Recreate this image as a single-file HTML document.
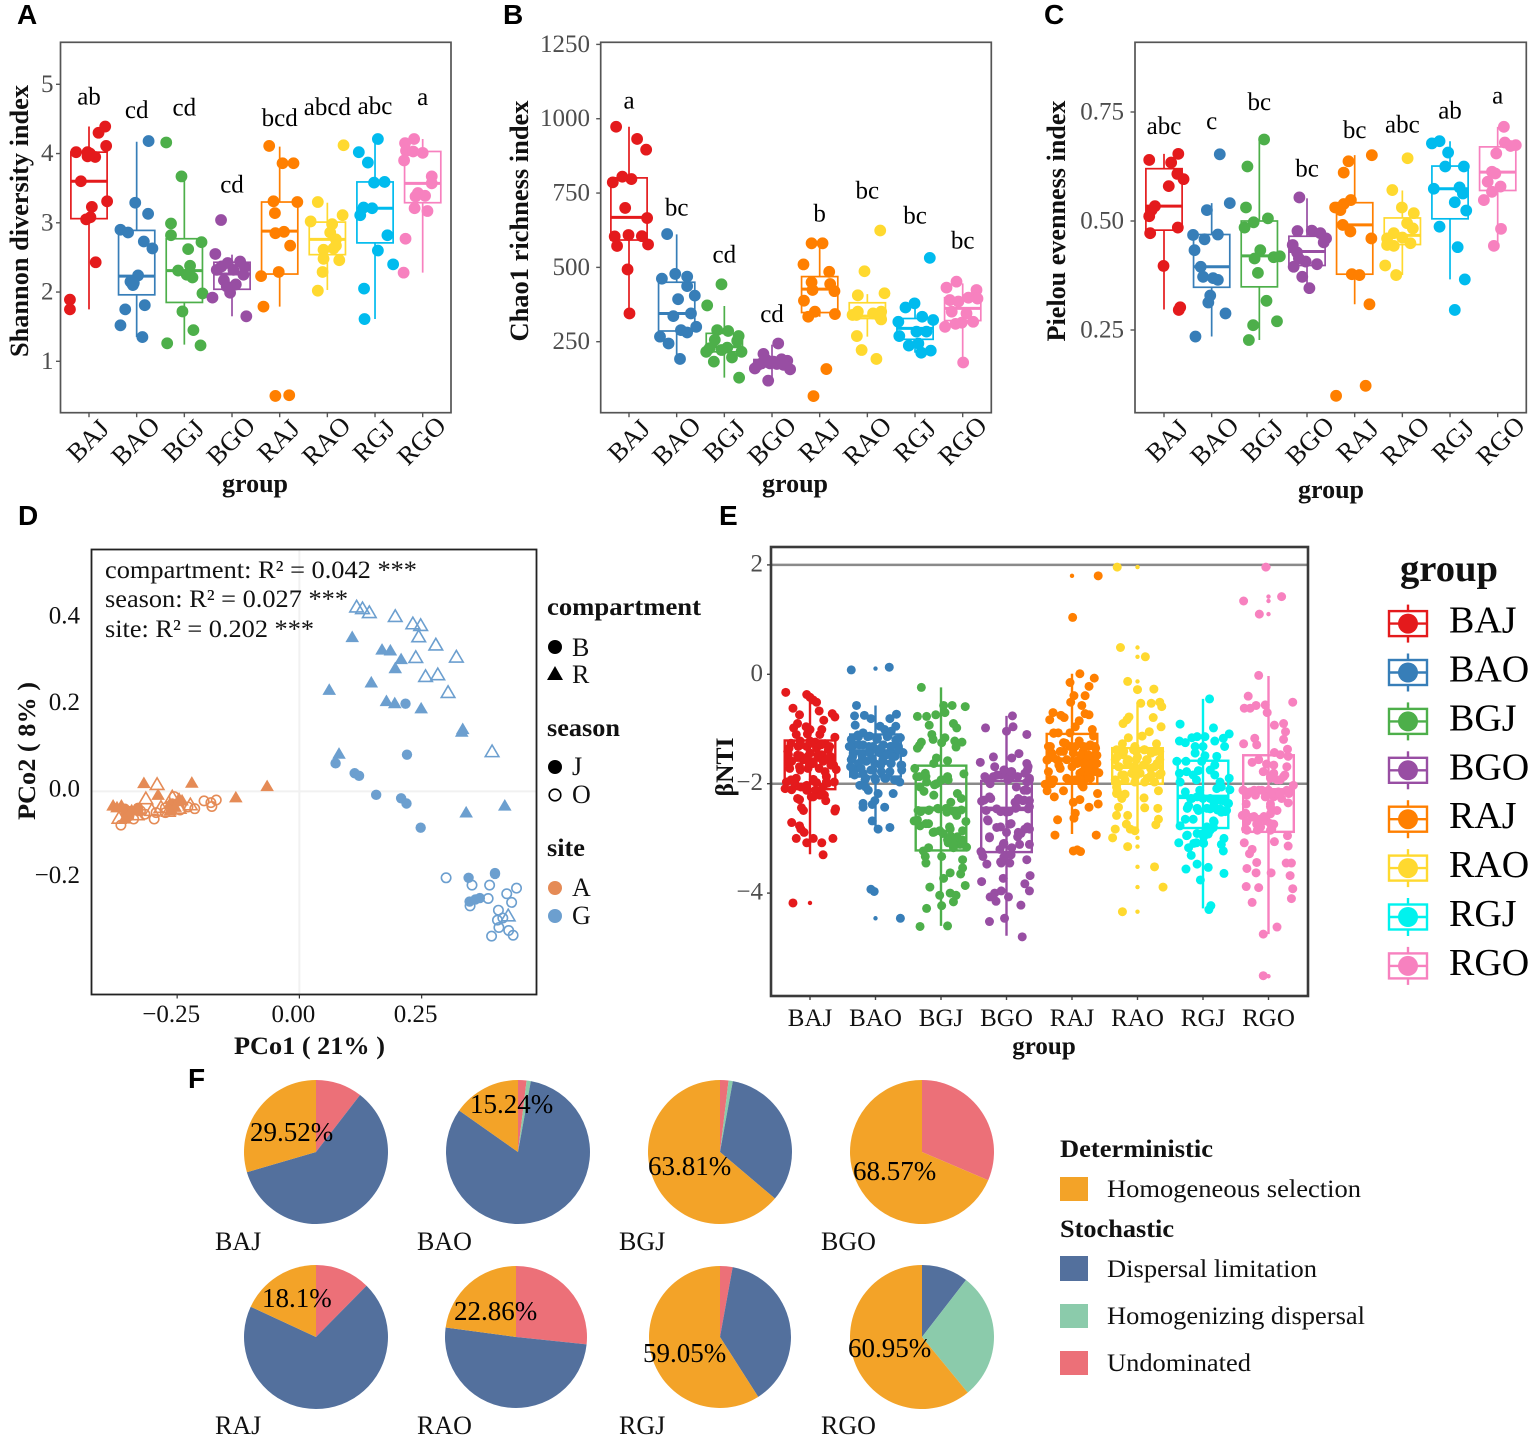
<!DOCTYPE html>
<html lang="en">
<head>
<meta charset="utf-8">
<title>Microbial diversity figure</title>
<style>
html,body{margin:0;padding:0;background:#fff;}
svg{display:block;}
text{font-family:"Liberation Serif","DejaVu Serif",serif;fill:#111;}
.panel-letter{font-family:"Liberation Sans",Arial,sans-serif;font-weight:700;font-size:28px;fill:#000;}
.b{font-weight:700;}
</style>
</head>
<body>
<svg id="fig" xmlns="http://www.w3.org/2000/svg" width="1535" height="1446" viewBox="0 0 1535 1446">
<rect x="0" y="0" width="1535" height="1446" fill="#fff"/>

<text class="panel-letter" x="17" y="24">A</text>
<text class="panel-letter" x="503" y="24">B</text>
<text class="panel-letter" x="1044" y="24">C</text>
<text class="panel-letter" x="18" y="525">D</text>
<text class="panel-letter" x="719" y="525">E</text>
<text class="panel-letter" x="188" y="1088">F</text>

<g id="panelA"></g>
<g id="panelB"></g>
<g id="panelC"></g>

<text class="b" font-size="26" text-anchor="middle" transform="translate(28,221) rotate(-90)" textLength="272" lengthAdjust="spacingAndGlyphs">Shannon diversity index</text>
<text class="b" font-size="26" text-anchor="middle" transform="translate(528,221) rotate(-90)" textLength="241" lengthAdjust="spacingAndGlyphs">Chao1 richness index</text>
<text class="b" font-size="26" text-anchor="middle" transform="translate(1065,221) rotate(-90)" textLength="241" lengthAdjust="spacingAndGlyphs">Pielou evenness index</text>
<text class="b" font-size="26" text-anchor="middle" x="255" y="492">group</text>
<text class="b" font-size="26" text-anchor="middle" x="795" y="492">group</text>
<text class="b" font-size="26" text-anchor="middle" x="1331" y="498">group</text>

<g id="panelD"></g>
<text font-size="25" x="105" y="578" textLength="312" lengthAdjust="spacingAndGlyphs">compartment: R² = 0.042 ***</text>
<text font-size="25" x="105" y="607" textLength="243" lengthAdjust="spacingAndGlyphs">season: R² = 0.027 ***</text>
<text font-size="25" x="105" y="637" textLength="209" lengthAdjust="spacingAndGlyphs">site: R² = 0.202 ***</text>
<text class="b" font-size="25" x="234" y="1054" textLength="151" lengthAdjust="spacingAndGlyphs">PCo1 ( 21% )</text>
<text class="b" font-size="25" text-anchor="middle" transform="translate(35,751) rotate(-90)" textLength="138" lengthAdjust="spacingAndGlyphs">PCo2 ( 8% )</text>

<g>
  <text class="b" font-size="25" x="547" y="615" textLength="154" lengthAdjust="spacingAndGlyphs">compartment</text>
  <circle cx="555" cy="647" r="7" fill="#000"/>
  <text font-size="26" x="572" y="656">B</text>
  <path d="M555,666 L563,680 L547,680 Z" fill="#000"/>
  <text font-size="26" x="572" y="683">R</text>
  <text class="b" font-size="25" x="547" y="736" textLength="73" lengthAdjust="spacingAndGlyphs">season</text>
  <circle cx="555" cy="767" r="7" fill="#000"/>
  <text font-size="26" x="572" y="775">J</text>
  <circle cx="555" cy="795" r="5.8" fill="none" stroke="#000" stroke-width="1.6"/>
  <text font-size="26" x="572" y="803">O</text>
  <text class="b" font-size="25" x="547" y="856" textLength="38" lengthAdjust="spacingAndGlyphs">site</text>
  <circle cx="555" cy="888" r="7" fill="#E58B56"/>
  <text font-size="26" x="572" y="896">A</text>
  <circle cx="555" cy="916" r="7" fill="#6C9FCF"/>
  <text font-size="26" x="572" y="924">G</text>
</g>

<g id="panelE"></g>
<text class="b" font-size="25" text-anchor="middle" transform="translate(733,767) rotate(-90)" textLength="59" lengthAdjust="spacingAndGlyphs">βNTI</text>
<text class="b" font-size="25" text-anchor="middle" x="1044" y="1054">group</text>

<text class="b" font-size="38" x="1400" y="581" textLength="98" lengthAdjust="spacingAndGlyphs">group</text>
<g id="groupLegend"></g>

<g id="panelF"></g>

<g>
  <text class="b" font-size="25" x="1060" y="1157" textLength="153" lengthAdjust="spacingAndGlyphs">Deterministic</text>
  <rect x="1060" y="1177" width="28" height="24" fill="#F3A328"/>
  <text font-size="25" x="1107" y="1197" textLength="254" lengthAdjust="spacingAndGlyphs">Homogeneous selection</text>
  <text class="b" font-size="25" x="1060" y="1237" textLength="114" lengthAdjust="spacingAndGlyphs">Stochastic</text>
  <rect x="1060" y="1256" width="28" height="25" fill="#53709D"/>
  <text font-size="25" x="1107" y="1277" textLength="210" lengthAdjust="spacingAndGlyphs">Dispersal limitation</text>
  <rect x="1060" y="1304" width="28" height="24" fill="#8BCBAB"/>
  <text font-size="25" x="1107" y="1324" textLength="258" lengthAdjust="spacingAndGlyphs">Homogenizing dispersal</text>
  <rect x="1060" y="1351" width="28" height="24" fill="#EC7078"/>
  <text font-size="25" x="1107" y="1371" textLength="144" lengthAdjust="spacingAndGlyphs">Undominated</text>
</g>
</svg>

<script>
const groups = ['BAJ','BAO','BGJ','BGO','RAJ','RAO','RGJ','RGO'];
const groupColors = ['#E41A1C','#377EB8','#4DAF4A','#984EA3','#FF7F00','#FFD92F','#00BBEE','#F781BF'];
const bntiColors = ['#E41A1C','#377EB8','#4DAF4A','#984EA3','#FF7F00','#FFD92F','#00F2EE','#F781BF'];

/* Panel A: [value, jitter] */
const shannonTicks = [1,2,3,4,5];
const shannonLetters = ['ab','cd','cd','cd','bcd','abcd','abc','a'];
const shannonLetterValues = [4.71,4.51,4.55,3.44,4.40,4.56,4.57,4.70];
const shannonBoxes = [[1.75,3.06,3.60,4.02,4.39],[1.35,1.96,2.23,2.89,4.17],[1.24,1.85,2.31,2.77,3.67],[1.65,2.04,2.26,2.43,2.54],[1.79,2.26,2.88,3.30,4.10],[2.03,2.54,2.76,3.01,3.29],[1.61,2.71,3.21,3.59,4.21],[2.28,3.29,3.57,4.03,4.21]];
const shannonPoints = [
[[1.89,-.40],[1.75,-.40],[4.02,-.27],[4.02,-.03],[3.96,-.03],[3.95,.13],[3.60,-.17],[3.23,.06],[3.05,-.06],[3.08,.03],[3.31,.38],[2.43,.14],[4.11,.36],[4.30,.20],[4.39,.34],[4.00,.02]],
[[4.18,.25],[3.29,-.03],[3.13,.24],[2.90,-.34],[2.86,-.18],[2.73,.15],[2.63,.33],[2.24,.03],[2.15,-.13],[2.10,-.08],[2.13,-.06],[1.75,-.24],[1.81,.17],[1.52,-.34],[1.35,.12]],
[[4.16,-.38],[3.67,-.06],[2.99,-.28],[2.82,-.28],[2.72,.36],[2.62,.08],[2.38,.12],[2.31,-.13],[2.25,.05],[2.21,.17],[1.98,.38],[1.72,-.04],[1.45,.19],[1.26,-.36],[1.23,.34]],
[[3.04,-.23],[2.55,-.35],[2.42,-.09],[2.44,.17],[2.36,.27],[2.25,.24],[2.32,-.32],[2.17,-.17],[2.11,.08],[1.99,-.04],[1.92,-.41],[1.65,.30],[2.37,-.22],[2.32,.03],[2.08,-.11]],
[[4.11,-.22],[3.86,.06],[3.86,.29],[3.31,-.13],[3.30,.37],[3.14,-.10],[2.85,-.09],[2.87,.09],[2.67,.22],[2.23,-.39],[2.29,-.02],[1.79,-.34],[.50,-.09],[.51,.20]],
[[4.12,.34],[3.30,-.20],[3.02,-.35],[3.11,.32],[2.98,.10],[2.86,.06],[2.76,.18],[2.61,-.08],[2.67,.18],[2.63,.13],[2.48,-.08],[2.46,.25],[2.29,-.10],[2.02,-.20]],
[[4.21,.06],[4.02,-.34],[3.87,-.15],[3.58,-.02],[3.59,.20],[3.22,-.24],[3.21,-.06],[3.11,-.31],[2.82,.26],[2.60,.06],[2.40,.38],[2.05,-.23],[1.61,-.22]],
[[4.21,-.18],[4.15,-.37],[4.04,-.35],[4.03,-.20],[4.01,0],[3.90,-.39],[3.67,.19],[3.57,.19],[3.43,-.10],[3.38,-.15],[3.39,.05],[3.21,-.17],[3.17,.10],[2.77,-.36],[2.28,-.40]]
];

/* Panel B */
const chaoTicks = [250,500,750,1000,1250];
const chaoLetters = ['a','bc','cd','cd','b','bc','bc','bc'];
const chaoLetterValues = [1035,674,516,317,654,732,648,564];
const chaoBoxes = [[345,592,668,801,973],[192,286,345,450,611],[129,216,233,278,370],[125,170,180,190,240],[334,348,427,469,581],[267,328,336,381,410],[213,258,295,328,379],[180,321,362,398,446]];
const chaoPoints = [
[[973,-.27],[932,.17],[896,.36],[786,-.34],[805,-.14],[797,.05],[700,-.08],[666,.38],[604,-.30],[609,-.01],[605,.27],[572,-.25],[577,.40],[493,-.03],[345,.01]],
[[612,-.20],[462,-.31],[478,-.03],[469,.22],[437,.22],[405,.38],[393,.03],[345,.30],[336,-.07],[300,.41],[289,.09],[281,.22],[267,-.35],[244,-.17],[192,.07]],
[[443,-.06],[372,-.36],[289,-.15],[286,.08],[256,-.20],[269,.30],[253,.27],[216,-.38],[230,.06],[216,.36],[183,-.22],[197,.16],[129,.31],[228,-.31],[222,-.06]],
[[244,.13],[209,-.18],[160,-.36],[177,-.22],[177,-.04],[191,.20],[186,.32],[175,.10],[157,.38],[119,-.08],[172,-.29],[172,.24],[188,-.11],[183,.03]],
[[581,-.17],[581,.06],[510,-.34],[485,.20],[450,-.17],[444,.22],[424,-.15],[420,.31],[388,-.33],[351,-.10],[334,-.24],[343,.32],[158,.14],[67,-.13]],
[[624,.27],[487,-.06],[413,.36],[406,-.20],[351,-.20],[351,.29],[340,-.31],[345,.12],[340,-.23],[334,.26],[325,.29],[269,-.22],[222,-.12],[192,.19]],
[[532,.31],[379,-.01],[365,-.20],[334,.15],[323,.38],[317,-.35],[284,.03],[284,.24],[269,-.33],[244,.07],[237,-.13],[220,.33],[213,.13]],
[[452,-.13],[432,-.34],[424,.29],[390,-.27],[398,.12],[395,.31],[351,-.23],[300,-.37],[314,-.02],[317,.22],[345,.08],[180,.01],[385,-.09],[310,-.15]]
];

/* Panel C */
const pielouTicks = [0.25,0.50,0.75];
const pielouTickLabels = ['0.25','0.50','0.75'];
const pielouLetters = ['abc','c','bc','bc','bc','abc','ab','a'];
const pielouLetterValues = [.699,.711,.755,.602,.690,.703,.735,.769];
const pielouBoxes = [[.297,.479,.534,.620,.654],[.235,.348,.395,.469,.541],[.227,.349,.420,.500,.687],[.346,.398,.430,.465,.552],[.309,.378,.491,.542,.651],[.376,.446,.467,.507,.570],[.366,.505,.574,.626,.683],[.443,.570,.612,.670,.716]];
const pielouPoints = [
[[.640,-.31],[.654,.30],[.634,.15],[.608,.28],[.596,.41],[.580,.10],[.534,-.19],[.525,-.26],[.511,-.31],[.472,-.29],[.485,.29],[.397,-.01],[.302,.34],[.296,.31]],
[[.653,.17],[.541,.38],[.525,-.10],[.468,-.39],[.458,-.15],[.469,.13],[.433,-.36],[.395,-.23],[.372,-.18],[.369,.03],[.365,.13],[.329,-.03],[.313,-.07],[.288,.29],[.235,-.34]],
[[.687,.10],[.625,-.25],[.531,-.28],[.497,-.12],[.506,.18],[.485,-.31],[.433,.02],[.414,-.10],[.417,.30],[.419,.43],[.381,-.03],[.317,.15],[.261,-.13],[.270,.37],[.227,-.22]],
[[.554,-.16],[.477,-.20],[.478,.10],[.472,.28],[.460,.40],[.451,.35],[.445,-.30],[.428,-.21],[.407,-.03],[.395,-.28],[.401,.21],[.372,-.10],[.346,.05],[.414,-.17]],
[[.637,-.13],[.611,-.23],[.548,-.08],[.539,-.23],[.531,-.41],[.525,-.30],[.491,-.25],[.476,-.09],[.460,.35],[.378,-.06],[.376,.10],[.309,.31],[.122,.23],[.099,-.39],[.651,.36]],
[[.644,.11],[.571,-.21],[.531,-.01],[.518,.24],[.495,.10],[.483,.22],[.472,-.18],[.460,-.32],[.462,0],[.449,.17],[.443,-.18],[.445,-.32],[.398,-.36],[.376,-.13]],
[[.678,-.38],[.683,-.22],[.657,-.04],[.625,-.10],[.625,.29],[.574,-.34],[.577,.20],[.563,.27],[.543,.10],[.524,.34],[.487,-.22],[.440,.16],[.366,.31],[.296,.10]],
[[.716,.13],[.680,.15],[.674,.38],[.655,-.03],[.613,-.12],[.590,-.21],[.579,.06],[.567,-.12],[.548,-.29],[.482,.07],[.443,-.08],[.609,-.05],[.672,.27]]
];

/* Panel D: [PCo1, PCo2] */
const pcoaXTicks = [-0.25,0,0.25];
const pcoaXLabels = ['−0.25','0.00','0.25'];
const pcoaYTicks = [-0.2,0,0.2,0.4];
const pcoaYLabels = ['−0.2','0.0','0.2','0.4'];
const siteAFilledTriangles = [[-.318,.020],[-.220,.021],[-.066,.013],[-.130,-.013],[-.289,-.007],[-.381,-.032],[-.364,-.032],[-.246,-.016],[-.265,-.028],[-.353,-.053],[-.330,-.040],[-.373,-.036],[-.350,-.055],[-.343,-.043],[-.330,-.043],[-.357,-.062],[-.254,-.035],[-.264,-.043],[-.240,-.020]];
const siteAFilledCircles = [[-.357,-.040],[-.348,-.057],[-.330,-.038],[-.260,-.028],[-.355,-.049],[-.344,-.045]];
const siteAOpenTriangles = [[-.291,.017],[-.314,-.016],[-.260,-.012],[-.369,-.061],[-.332,-.053],[-.302,-.043],[-.268,-.045],[-.246,-.038],[-.223,-.030],[-.283,-.036]];
const siteAOpenCircles = [[-.365,-.078],[-.339,-.064],[-.297,-.064],[-.274,-.049],[-.325,-.045],[-.256,-.012],[-.214,-.040],[-.195,-.022],[-.181,-.026],[-.179,-.035],[-.170,-.020],[-.244,-.043],[-.228,-.036],[-.316,-.053],[-.293,-.049],[-.353,-.061],[-.274,-.038]];
const siteGFilledTriangles = [[.108,.358],[.169,.329],[.186,.327],[.208,.307],[.196,.286],[.147,.253],[.061,.236],[.178,.210],[.195,.205],[.249,.193],[.334,.145],[.332,.139],[.081,.088],[.420,-.032],[.341,-.048]];
const siteGOpenTriangles = [[.117,.428],[.129,.424],[.143,.415],[.196,.406],[.232,.389],[.248,.385],[.244,.359],[.279,.340],[.321,.312],[.238,.311],[.258,.267],[.283,.271],[.304,.230],[.394,.093],[.427,-.287]];
const siteGFilledCircles = [[.217,.203],[.220,.085],[.074,.065],[.113,.042],[.122,.036],[.157,-.008],[.208,-.016],[.219,-.028],[.248,-.084],[.346,-.200],[.400,-.189],[.400,-.191],[.348,-.255],[.360,-.250],[.369,-.247]];
const siteGOpenCircles = [[.300,-.200],[.353,-.217],[.389,-.217],[.444,-.224],[.424,-.237],[.386,-.248],[.434,-.257],[.349,-.265],[.407,-.275],[.405,-.298],[.416,-.293],[.408,-.315],[.428,-.322],[.393,-.335],[.437,-.333]];

/* Panel E: [value, jitter] */
const bntiTicks = [-4,-2,0,2];
const bntiTickLabels = ['−4','−2','0','2'];
const bntiReferenceLines = [2,-2];
const bntiBoxes = [[-3.29,-2.10,-1.56,-1.21,-.39],[-2.83,-1.87,-1.41,-1.10,-.57],[-4.60,-3.22,-2.46,-1.67,-.24],[-4.78,-3.25,-2.46,-1.95,-.76],[-2.92,-2.00,-1.56,-1.09,.01],[-2.86,-2.00,-1.69,-1.35,-.51],[-4.28,-2.81,-2.24,-1.58,-.45],[-4.75,-2.88,-2.12,-1.48,-.03]];
const bntiOutliers = [[-4.18],[.105,-4.46],[],[],[1.80],[1.96,.49,.32,-.13,-2.99,-3.15,-3.52,-3.89,-4.34],[],[1.96,1.42,1.34,1.10,-5.52]];
const bntiBAJ = [[-.33,-.37],[-.37,-.05],[-.42,0],[-.47,.05],[-.51,.10],[-.62,-.26],[-.67,.14],[-.74,-.16],[-.72,.34],[-.78,.38],[-.84,.21],[-.90,-.19],[-.98,-.25],[-.96,-.06],[-1.01,0],[-1.01,.18],[-1.10,-.21],[-1.09,-.04],[-1.10,.15],[-1.15,.38],[-1.22,-.15],[-1.22,0],[-1.24,.08],[-1.27,.23],[-1.35,-.32],[-1.32,-.18],[-1.32,-.05],[-1.35,.10],[-1.38,.28],[-1.47,-.33],[-1.49,-.15],[-1.44,0],[-1.47,.18],[-1.5,.31],[-1.59,-.28],[-1.56,-.10],[-1.63,.05],[-1.59,.2],[-1.66,.36],[-1.72,-.31],[-1.75,-.15],[-1.72,-.03],[-1.78,.23],[-1.74,.4],[-1.87,.25],[-1.9,-.21],[-1.92,.05],[-1.97,-.36],[-2.0,-.23],[-2.03,-.05],[-1.98,.1],[-1.97,.25],[-1.97,.37],[-2.09,-.38],[-2.11,-.28],[-2.12,-.05],[-2.12,.08],[-2.06,.2],[-2.21,.15],[-2.24,.05],[-2.29,-.16],[-2.31,.24],[-2.44,-.13],[-2.49,-.10],[-2.46,.39],[-2.5,.38],[-2.71,-.28],[-2.77,-.16],[-2.83,-.14],[-2.89,-.09],[-3.0,-.21],[-3.0,.05],[-3.0,.35],[-3.08,-.05],[-3.08,.18],[-3.3,.2],[-4.18,-.26],[-1.26,-.29],[-1.29,-.14],[-1.26,.02],[-1.29,.17],[-1.32,.3],[-1.41,-.34],[-1.48,-.19],[-1.51,-.04],[-1.48,.12],[-1.54,.27],[-1.63,-.32],[-1.69,-.16],[-1.66,-.01],[-1.72,.14],[-1.66,.32],[-1.93,-.29],[-2.06,-.14],[-1.96,.07],[-1.99,.27],[-2.12,.17],[-2.24,.02],[-2.21,.22],[-2.27,-.19]];
const bntiBAO = [[.08,-.37],[.13,.21],[-.57,-.29],[-.76,-.32],[-.75,-.17],[-.81,-.07],[-.73,.32],[-.81,.22],[-.93,-.31],[-.95,.07],[-1.01,.14],[-.95,.31],[-1.04,.24],[-1.07,-.19],[-1.13,-.09],[-1.19,-.37],[-1.14,-.26],[-1.19,.02],[-1.13,.19],[-1.16,.38],[-1.32,-.4],[-1.29,-.32],[-1.29,-.19],[-1.32,-.04],[-1.29,.12],[-1.32,.24],[-1.32,.35],[-1.43,.42],[-1.44,-.34],[-1.47,-.21],[-1.44,-.09],[-1.44,.07],[-1.47,.17],[-1.5,.3],[-1.56,-.37],[-1.63,-.26],[-1.59,-.14],[-1.63,-.01],[-1.59,.12],[-1.63,.24],[-1.66,.4],[-1.75,-.32],[-1.81,-.19],[-1.75,-.04],[-1.78,.09],[-1.78,.22],[-1.75,.4],[-1.84,-.32],[-1.93,-.16],[-1.9,-.01],[-1.9,.14],[-1.93,.29],[-1.97,.37],[-2.03,-.24],[-2.12,-.11],[-2.18,.04],[-2.18,.27],[-2.36,-.19],[-2.43,-.19],[-2.31,-.01],[-2.38,-.05],[-2.43,.14],[-2.68,-.05],[-2.83,.04],[-2.8,.22],[-3.93,-.07],[-3.97,-.02],[-4.46,.38],[-1.11,-.27],[-1.14,-.12],[-1.17,.03],[-1.14,.18],[-1.2,.31],[-1.32,-.38],[-1.29,-.25],[-1.32,-.1],[-1.35,.08],[-1.32,.23],[-1.38,.36],[-1.51,-.35],[-1.54,-.2],[-1.54,-.05],[-1.57,.11],[-1.51,.26],[-1.69,-.38],[-1.72,-.22],[-1.75,-.07],[-1.66,.08],[-1.63,.23],[-1.66,.39],[-1.9,-.15],[-1.93,0],[-1.9,.16],[-1.93,.31],[-2.06,-.15]];
const bntiBGJ = [[-.24,-.3],[-.57,.04],[-.57,.17],[-.59,.37],[-.7,.06],[-.77,-.36],[-.77,-.22],[-.74,-.08],[-.93,-.18],[-.9,.19],[-.98,.24],[-1.1,-.14],[-1.19,-.12],[-1.16,.06],[-1.24,-.3],[-1.35,-.36],[-1.3,-.33],[-1.22,.21],[-1.24,.32],[-1.33,.23],[-1.25,.01],[-1.53,-.07],[-1.58,.1],[-1.63,-.11],[-1.72,-.4],[-1.87,-.37],[-1.81,-.24],[-1.97,-.22],[-1.82,.35],[-1.93,.01],[-1.93,.11],[-2.0,-.07],[-2.06,-.32],[-2.14,-.26],[-2.21,-.11],[-2.18,.25],[-2.27,.31],[-2.34,.15],[-2.49,-.35],[-2.49,-.19],[-2.46,-.04],[-2.52,.09],[-2.58,.24],[-2.68,-.41],[-2.77,-.32],[-2.73,-.19],[-2.69,.38],[-2.83,.14],[-2.89,-.12],[-2.86,-.02],[-2.86,.33],[-2.96,.15],[-3.02,.26],[-3.08,.11],[-3.11,.29],[-3.16,.39],[-3.17,-.19],[-3.23,-.27],[-3.17,.19],[-3.33,.01],[-3.33,-.24],[-3.45,-.23],[-3.39,.33],[-3.54,.33],[-3.63,.14],[-3.65,.3],[-3.73,.04],[-3.86,.37],[-3.89,-.17],[-4.04,-.02],[-4.0,.14],[-4.04,.23],[-4.16,.19],[-4.23,.01],[-4.28,-.22],[-4.61,-.32],[-4.6,.1],[-2.51,-.31],[-2.48,-.18],[-2.45,-.05],[-2.45,.08],[-2.51,.2],[-2.48,.31],[-2.97,.25],[-3.09,.31],[-3.09,.18],[-3.03,.1],[-3.03,.33],[-2.88,-.1],[-2.91,.03],[-2.66,-.36],[-2.73,-.23],[-2.79,.13],[-1.93,0],[-2.02,-.1],[-1.87,.1],[-1.87,-.33],[-1.87,-.23]];
const bntiBGO = [[-.76,.09],[-.98,-.32],[-1.04,0],[-.96,.1],[-1.1,.31],[-1.51,-.2],[-1.45,.19],[-1.53,.08],[-1.61,-.4],[-1.69,-.18],[-1.63,.31],[-1.75,-.03],[-1.78,.08],[-1.87,-.33],[-1.87,-.2],[-1.84,-.08],[-1.81,.28],[-1.69,.33],[-2.0,-.25],[-1.9,.05],[-2.06,.15],[-1.97,.31],[-1.9,.35],[-2.12,.31],[-2.24,-.26],[-2.32,-.38],[-2.27,.18],[-2.34,.13],[-2.31,.25],[-2.31,.35],[-2.49,-.31],[-2.46,-.15],[-2.52,0],[-2.43,.15],[-2.46,.33],[-2.68,-.28],[-2.8,-.15],[-2.74,.05],[-2.83,.28],[-2.89,.18],[-2.83,.35],[-2.99,-.26],[-2.89,0],[-3.11,.2],[-3.11,-.05],[-3.2,-.1],[-3.17,.08],[-3.11,.35],[-3.26,-.38],[-3.33,-.36],[-3.39,-.03],[-3.39,.31],[-3.45,-.08],[-3.45,.05],[-3.47,-.3],[-3.73,-.05],[-3.68,.36],[-3.83,.28],[-3.96,.35],[-3.79,-.38],[-4.07,-.25],[-4.0,-.18],[-3.96,-.08],[-4.07,.03],[-4.15,-.16],[-4.22,.22],[-4.46,-.03],[-4.52,-.26],[-4.8,.24],[-1.75,-.04],[-1.78,.07],[-1.87,.17],[-1.84,-.14],[-1.93,-.29],[-1.93,.02],[-1.75,.32],[-1.93,.35],[-2.12,.27],[-2.3,-.34],[-2.27,-.24],[-2.3,.17],[-2.3,.27],[-2.42,.35],[-2.51,-.09],[-2.51,.04],[-2.45,.14],[-2.66,-.29],[-2.79,-.09],[-2.73,.07],[-2.91,.22],[-2.79,.32],[-2.97,-.26],[-3.09,-.04],[-2.97,.17],[-3.24,-.39],[-3.34,-.04],[-3.3,.07],[-3.43,-.09]];
const bntiRAJ = [[1.8,.40],[1.04,.01],[.01,.12],[-.07,.34],[-.15,-.03],[-.22,.26],[-.39,.03],[-.39,.2],[-.51,-.02],[-.57,.15],[-.7,-.29],[-.75,-.17],[-.72,.2],[-.74,.26],[-.83,-.34],[-.79,-.12],[-.85,.11],[-.96,.05],[-1.01,.31],[-1.07,-.28],[-1.07,-.21],[-1.07,-.03],[-1.13,.33],[-1.32,-.36],[-1.25,-.13],[-1.22,.11],[-1.32,-.03],[-1.32,.25],[-1.32,.35],[-1.44,-.31],[-1.41,-.13],[-1.44,.02],[-1.41,.17],[-1.47,.35],[-1.56,-.38],[-1.56,-.23],[-1.56,-.08],[-1.59,.07],[-1.56,.22],[-1.59,.35],[-1.72,-.18],[-1.69,0],[-1.72,.2],[-1.69,.3],[-1.78,-.36],[-1.81,.12],[-1.8,.41],[-1.9,-.08],[-1.9,.22],[-1.93,-.28],[-2.01,-.41],[-2.0,-.31],[-1.93,.05],[-2.03,.15],[-2.13,-.38],[-2.06,.17],[-2.13,-.13],[-2.18,.39],[-2.24,-.27],[-2.29,.12],[-2.34,.02],[-2.37,.4],[-2.43,.26],[-2.54,.05],[-2.63,.03],[-2.66,-.22],[-2.94,-.26],[-2.94,.37],[-3.23,.02],[-3.21,.08],[-3.24,.13],[-1.32,.18],[-1.29,.28],[-1.35,.36],[-1.48,.13],[-1.48,.26],[-1.48,.38],[-1.63,.08],[-1.63,.18],[-1.63,.28],[-1.63,.38],[-1.78,.16],[-1.78,.26],[-1.78,.36],[-1.08,-.28],[-1.32,-.33],[-1.48,-.3],[-1.57,-.38],[-1.41,-.18],[-1.26,-.1],[-1.66,-.2],[-1.93,-.33],[-1.93,-.05],[-1.32,.05],[-1.93,.13],[-1.9,.28]];
const bntiRAO = [[1.96,-.31],[.49,-.26],[.32,.12],[-.13,-.15],[-.28,0],[-.27,.25],[-.53,.05],[-.53,.21],[-.51,.34],[-.59,.37],[-.79,.24],[-.78,-.13],[-.83,-.16],[-.9,-.22],[-.96,.36],[-1.05,.18],[-1.13,.07],[-1.16,-.14],[-1.27,-.23],[-1.27,.29],[-1.32,-.04],[-1.38,.11],[-1.38,-.32],[-1.41,.34],[-1.41,-.02],[-1.44,.21],[-1.47,-.22],[-1.56,-.34],[-1.56,-.14],[-1.56,-.02],[-1.56,.14],[-1.56,.34],[-1.69,-.29],[-1.69,-.07],[-1.66,.09],[-1.69,.26],[-1.81,.36],[-1.84,-.24],[-1.81,-.09],[-1.81,.04],[-1.84,.21],[-1.93,-.34],[-1.93,-.19],[-1.97,-.04],[-1.97,.11],[-1.97,.26],[-2.06,-.32],[-2.18,-.32],[-2.19,-.19],[-2.13,.32],[-2.27,-.24],[-2.26,.1],[-2.43,-.29],[-2.44,.11],[-2.45,.31],[-2.58,-.32],[-2.58,-.15],[-2.65,.32],[-2.75,.28],[-2.74,-.17],[-2.83,-.34],[-2.83,-.11],[-2.86,-.04],[-2.99,-.38],[-3.15,-.15],[-3.52,.26],[-3.89,.39],[-4.34,-.23],[-1.51,-.31],[-1.41,-.21],[-1.38,-.06],[-1.38,.1],[-1.41,.27],[-1.69,-.28],[-1.6,-.16],[-1.51,0],[-1.57,.15],[-1.63,.3],[-1.84,-.21],[-1.87,-.03],[-1.9,.15],[-1.84,.33],[-1.99,-.31],[-2.12,-.31],[-2.21,-.26],[-1.72,-.03],[-1.72,.2]];
const bntiRGJ = [[-.45,.1],[-.91,-.35],[-.98,.16],[-1.09,.4],[-1.17,.31],[-1.22,.18],[-1.16,-.17],[-1.14,-.09],[-1.14,.03],[-1.22,-.36],[-1.25,-.27],[-1.32,-.12],[-1.32,0],[-1.32,.33],[-1.5,.21],[-1.44,-.12],[-1.49,.03],[-1.59,-.4],[-1.59,-.26],[-1.59,-.02],[-1.66,.18],[-1.78,-.25],[-1.76,-.07],[-1.75,.11],[-1.81,-.36],[-1.84,-.15],[-1.84,.18],[-1.9,.4],[-1.97,-.35],[-1.93,-.1],[-1.97,.26],[-2.06,.28],[-2.09,.21],[-2.11,.41],[-2.15,-.27],[-2.12,-.05],[-2.27,-.17],[-2.27,0],[-2.31,.16],[-2.31,.31],[-2.37,.38],[-2.4,-.22],[-2.49,-.07],[-2.46,.11],[-2.46,.26],[-2.49,.36],[-2.65,-.15],[-2.65,-.27],[-2.68,.16],[-2.52,.28],[-2.77,-.35],[-2.8,.06],[-2.8,.16],[-2.95,-.25],[-2.92,-.02],[-2.92,.08],[-3.0,.32],[-3.08,-.37],[-3.08,-.1],[-3.08,0],[-3.17,-.22],[-3.11,.28],[-3.23,.31],[-3.31,-.18],[-3.47,-.09],[-3.56,-.26],[-3.53,.08],[-3.64,.32],[-3.76,-.04],[-4.23,.12],[-4.3,.09],[-2.27,-.19],[-2.24,-.04],[-2.27,.11],[-2.3,.27],[-2.36,.39],[-2.45,-.24],[-2.45,-.09],[-2.45,.06],[-2.48,.22],[-2.51,.34],[-2.79,.06],[-2.7,.17],[-2.91,-.09],[-2.97,.01],[-2.85,.11],[-2.94,-.24],[-3.09,-.14],[-3.09,.01],[-2.24,-.09],[-2.36,.17]];
const bntiRGO = [[1.96,-.04],[1.34,-.38],[1.42,.2],[1.1,-.14],[-.02,-.15],[-.4,-.31],[-.51,.37],[-.62,-.37],[-.62,-.28],[-.57,-.19],[-.56,-.05],[-.7,-.02],[-.93,.09],[-.9,.23],[-1.05,.26],[-1.17,-.21],[-1.19,.23],[-1.27,-.38],[-1.29,-.18],[-1.37,.29],[-1.43,.09],[-1.47,.18],[-1.5,.3],[-1.56,-.15],[-1.61,-.25],[-1.64,-.03],[-1.69,.28],[-1.78,-.08],[-1.81,.08],[-1.84,.25],[-1.9,.03],[-1.93,.18],[-2.03,.38],[-2.12,-.39],[-2.15,-.28],[-2.12,-.15],[-2.12,0],[-2.15,.15],[-2.12,.28],[-2.21,-.33],[-2.21,-.2],[-2.24,-.05],[-2.24,.08],[-2.27,.2],[-2.35,.3],[-2.37,-.34],[-2.37,.03],[-2.49,.13],[-2.58,-.4],[-2.61,-.25],[-2.65,-.13],[-2.55,.03],[-2.69,-.33],[-2.74,-.18],[-2.68,-.03],[-2.74,.08],[-2.83,-.35],[-2.83,-.15],[-2.83,.05],[-2.95,.29],[-3.06,.09],[-3.08,-.37],[-3.14,.3],[-3.2,-.25],[-3.28,-.29],[-3.44,-.18],[-3.45,.27],[-3.45,.35],[-3.55,-.33],[-3.63,-.19],[-3.63,.04],[-3.68,.33],[-3.88,-.34],[-3.9,-.15],[-3.92,.37],[-4.1,.35],[-4.17,-.25],[-4.62,.13],[-4.75,-.08],[-5.51,-.08],[-2.12,-.38],[-2.12,-.22],[-2.12,-.1],[-2.18,.06],[-2.18,.18],[-2.18,.31],[-1.87,.03],[-1.93,.13],[-1.87,.23],[-2.42,.03],[-2.6,-.07],[-2.6,-.22],[-2.54,-.35],[-2.79,-.12],[-2.73,.03],[-2.85,-.33],[-2.85,-.17],[-2.85,.03],[-1.66,.08]];
const bntiPoints = [bntiBAJ,bntiBAO,bntiBGJ,bntiBGO,bntiRAJ,bntiRAO,bntiRGJ,bntiRGO];

/* Panel F: counts out of 105 pairwise comparisons */
const pieSelection = [31,16,67,72,19,24,62,64];
const pieDispersal = [63,86,35,0,73,53,40,11];
const pieHomogenizing = [0,1,1,0,0,0,0,30];
const pieUndominated = [11,2,2,33,13,28,3,0];
const pieLabels = ['29.52%','15.24%','63.81%','68.57%','18.1%','22.86%','59.05%','60.95%'];

const NS = 'http://www.w3.org/2000/svg';
function make(parent, tag, attrs, txt){
  const el = document.createElementNS(NS, tag);
  for (const k in attrs) el.setAttribute(k, attrs[k]);
  if (txt !== undefined) el.textContent = txt;
  parent.appendChild(el);
  return el;
}

function boxPanel(root, o){
  const xOf = i => o.x0 + o.step * i;
  const yOf = o.y;
  const frame = make(root,'rect',{x:o.left,y:o.top,width:o.right-o.left,height:o.bottom-o.top,fill:'#fff',stroke:'#555',"stroke-width":1.7});
  
  
  o.ticks.forEach((t,k)=>{
    const tick = make(root,'line',{x1:o.left-4.5,x2:o.left,y1:yOf(t),y2:yOf(t),stroke:'#555',"stroke-width":1.4});
    
    
    const lab = make(root,'text',{x:o.left-o.tickGap,y:yOf(t)+7.5,"text-anchor":'end',"font-size":25,style:'fill:#4d4d4d'},o.tickLabels[k]);
    
    
  });
  groups.forEach((g,i)=>{
    const cx = xOf(i), hw = o.step*0.38, col = groupColors[i];
    const [lo,q1,med,q3,hi] = o.boxes[i];
    const tick = make(root,'line',{x1:cx,x2:cx,y1:o.bottom,y2:o.bottom+4.5,stroke:'#555',"stroke-width":1.4});
    
    
    const lab = make(root,'text',{"text-anchor":'middle',"font-size":26.5,transform:`translate(${cx+o.labelDx},${o.labelY}) rotate(-45)`,y:8.5},g);
    
    
    const wh = make(root,'line',{x1:cx,x2:cx,y1:yOf(lo),y2:yOf(hi),stroke:col,"stroke-width":1.7});
    
    
    const box = make(root,'rect',{x:cx-hw,width:2*hw,y:yOf(q3),height:yOf(q1)-yOf(q3),fill:'#fff',stroke:col,"stroke-width":1.7});
    
    
    const m = make(root,'line',{x1:cx-hw,x2:cx+hw,y1:yOf(med),y2:yOf(med),stroke:col,"stroke-width":3});
    
    
    o.points[i].forEach(p=>{
      const c = make(root,'circle',{cx:cx+p[1]*o.step,cy:yOf(p[0]),r:5.9,fill:col});
      
      
    });
    const sig = make(root,'text',{x:cx,y:yOf(o.letterValues[i]),"text-anchor":'middle',"font-size":25,style:'fill:#000'},o.letters[i]);
    
    
  });
}

boxPanel(document.getElementById('panelA'),{left:60.5,right:451,top:42.3,bottom:412.7,x0:89,step:47.67,tickGap:7,labelY:441,labelDx:-1,
  y:v=>361.3-(v-1)*69.25,ticks:shannonTicks,tickLabels:shannonTicks.map(String),boxes:shannonBoxes,points:shannonPoints,letters:shannonLetters,letterValues:shannonLetterValues});
boxPanel(document.getElementById('panelB'),{left:600.7,right:991.3,top:42.3,bottom:412.7,x0:629,step:47.67,tickGap:10.7,labelY:441,labelDx:0,
  y:v=>341.7-(v-250)*0.2973,ticks:chaoTicks,tickLabels:chaoTicks.map(String),boxes:chaoBoxes,points:chaoPoints,letters:chaoLetters,letterValues:chaoLetterValues});
boxPanel(document.getElementById('panelC'),{left:1135,right:1526.3,top:42.3,bottom:412.7,x0:1164,step:47.67,tickGap:11,labelY:441,labelDx:3,
  y:v=>330-(v-0.25)*436,ticks:pielouTicks,tickLabels:pielouTickLabels,boxes:pielouBoxes,points:pielouPoints,letters:pielouLetters,letterValues:pielouLetterValues});

/* Panel D */
(function(){
  const root = document.getElementById('panelD');
  const xOf = v => 299.4 + 489*v;
  const yOf = v => 791.4 - 432*v;
  const L=91.5,R=536.5,T=549.5,B=994.5;
  const vz = make(root,'line',{x1:xOf(0),x2:xOf(0),y1:T,y2:B,stroke:'#f1f1f1',"stroke-width":2});
  
  
  const hz = make(root,'line',{x1:L,x2:R,y1:yOf(0),y2:yOf(0),stroke:'#f1f1f1',"stroke-width":2});
  
  
  const frame = make(root,'rect',{x:L,y:T,width:R-L,height:B-T,fill:'none',stroke:'#222',"stroke-width":1.8});
  
  
  pcoaXTicks.forEach((t,k)=>{
    const tk = make(root,'line',{x1:xOf(t),x2:xOf(t),y1:B,y2:B+4,stroke:'#333',"stroke-width":1.2});
    
    
    const lab = make(root,'text',{x:xOf(t)-6,y:1022,"text-anchor":'middle',"font-size":25},pcoaXLabels[k]);
    
    
  });
  pcoaYTicks.forEach((t,k)=>{
    const lab = make(root,'text',{x:80,y:yOf(t)+5,"text-anchor":'end',"font-size":25},pcoaYLabels[k]);
    
    
  });
  function circles(arr,color,filled){
    arr.forEach(p=>{
      const attrs = filled ? {r:5.2,fill:color} : {r:4.7,fill:'none',stroke:color,"stroke-width":1.6};
      attrs.cx = xOf(p[0]); attrs.cy = yOf(p[1]);
      const c = make(root,'circle',attrs);
      
      
    });
  }
  function triangles(arr,color,filled){
    arr.forEach(p=>{
      const x=xOf(p[0]), y=yOf(p[1]);
      const d=`M${x},${y-6.2} L${x+6.8},${y+5.4} L${x-6.8},${y+5.4} Z`;
      const attrs = filled ? {d,fill:color} : {d,fill:'none',stroke:color,"stroke-width":1.6};
      const t = make(root,'path',attrs);
      
      
    });
  }
  const A='#E58B56', G='#6C9FCF';
  circles(siteAOpenCircles,A,false);
  triangles(siteAOpenTriangles,A,false);
  circles(siteAFilledCircles,A,true);
  triangles(siteAFilledTriangles,A,true);
  circles(siteGOpenCircles,G,false);
  triangles(siteGOpenTriangles,G,false);
  circles(siteGFilledCircles,G,true);
  triangles(siteGFilledTriangles,G,true);
})();

/* Panel E */
(function(){
  const root = document.getElementById('panelE');
  const step = 65.5, xOf = i => 810 + step*i;
  const yOf = v => 674.3 - 54.7*v;
  const L=771,R=1308,T=547,B=996;
  bntiReferenceLines.forEach(v=>{
    const l = make(root,'line',{x1:L,x2:R,y1:yOf(v),y2:yOf(v),stroke:'#8a8a8a',"stroke-width":2.5});
    
    
  });
  bntiTicks.forEach((t,k)=>{
    const tk = make(root,'line',{x1:L-4,x2:L,y1:yOf(t),y2:yOf(t),stroke:'#444',"stroke-width":1.4});
    
    
    const lab = make(root,'text',{x:L-8,y:yOf(t)+6.5,"text-anchor":'end',"font-size":25,style:'fill:#4d4d4d'},bntiTickLabels[k]);
    
    
  });
  groups.forEach((g,i)=>{
    const cx=xOf(i), hw=25.3, col=bntiColors[i];
    const [lo,q1,med,q3,hi]=bntiBoxes[i];
    const tk = make(root,'line',{x1:cx,x2:cx,y1:B,y2:B+4,stroke:'#444',"stroke-width":1.4});
    
    
    const lab = make(root,'text',{x:cx,y:1026,"text-anchor":'middle',"font-size":25},g);
    
    
    const wh = make(root,'line',{x1:cx,x2:cx,y1:yOf(lo),y2:yOf(hi),stroke:col,"stroke-width":2.4});
    
    
    const box = make(root,'rect',{x:cx-hw,width:2*hw,y:yOf(q3),height:yOf(q1)-yOf(q3),fill:'none',stroke:col,"stroke-width":2.4});
    
    
    const m = make(root,'line',{x1:cx-hw,x2:cx+hw,y1:yOf(med),y2:yOf(med),stroke:col,"stroke-width":4.5});
    
    
    bntiOutliers[i].forEach(v=>{
      const c = make(root,'circle',{cx:cx,cy:yOf(v),r:2.2,fill:col});
      
      
    });
    bntiPoints[i].forEach(p=>{
      const c = make(root,'circle',{cx:cx+p[1]*step,cy:yOf(p[0]),r:4.5,fill:col});
      
      
    });
  });
  const frame = make(root,'rect',{x:L,y:T,width:R-L,height:B-T,fill:'none',stroke:'#3a3a3a',"stroke-width":2.6});
  
  
})();

/* Group legend */
(function(){
  const root = document.getElementById('groupLegend');
  groups.forEach((g,i)=>{
    const cy = 623.6 + 48.9*i, cx = 1408, col = bntiColors[i];
    const wh = make(root,'line',{x1:cx,x2:cx,y1:cy-19,y2:cy+19,stroke:col,"stroke-width":2.4});
    
    
    const box = make(root,'rect',{x:cx-19,y:cy-12.5,width:38,height:25,fill:'#fff',stroke:col,"stroke-width":2.4});
    
    
    const m = make(root,'line',{x1:cx-19,x2:cx+19,y1:cy,y2:cy,stroke:col,"stroke-width":2.4});
    
    
    const d = make(root,'circle',{cx:cx,cy:cy,r:10,fill:col});
    
    
    const t = make(root,'text',{x:1449,y:cy+9,"font-size":38,style:'fill:#000'},g);
    
    
  });
})();

/* Panel F */
(function(){
  const root = document.getElementById('panelF');
  const colors = {sel:'#F3A328',dis:'#53709D',hom:'#8BCBAB',und:'#EC7078'};
  const labelX = [250,470,648,853,262,454,643,848];
  const labelY = [1141,1113,1175,1180,1307,1320,1362,1357];
  groups.forEach((g,i)=>{
    const col = i%4, row = Math.floor(i/4);
    const cx = 316 + 202*col - (g==='RAO'?2:0);
    const cy = row===0 ? 1152 : 1337;
    const r = (g==='RAO'||g==='RGJ') ? 71 : 72;
    const total = pieSelection[i]+pieDispersal[i]+pieHomogenizing[i]+pieUndominated[i];
    const order = g==='RGO'
      ? [[pieUndominated[i],colors.und],[pieDispersal[i],colors.dis],[pieHomogenizing[i],colors.hom],[pieSelection[i],colors.sel]]
      : [[pieUndominated[i],colors.und],[pieHomogenizing[i],colors.hom],[pieDispersal[i],colors.dis],[pieSelection[i],colors.sel]];
    let acc = 0;
    order.forEach(s=>{
      if (s[0] <= 0) return;
      const a0 = acc/total*2*Math.PI, a1 = (acc+s[0])/total*2*Math.PI;
      acc += s[0];
      const x0=cx+r*Math.sin(a0), y0=cy-r*Math.cos(a0), x1=cx+r*Math.sin(a1), y1=cy-r*Math.cos(a1);
      const large = (a1-a0) > Math.PI ? 1 : 0;
      const p = make(root,'path',{d:`M${cx},${cy} L${x0},${y0} A${r},${r} 0 ${large} 1 ${x1},${y1} Z`,fill:s[1]});
      
      
    });
    const pct = make(root,'text',{x:labelX[i],y:labelY[i],"font-size":27,style:'fill:#000'},pieLabels[i]);
    
    
    const name = make(root,'text',{x:215+202*col,y:row===0?1250:1434,"font-size":26},g);
    
    
  });
})();
</script>
</body>
</html>
